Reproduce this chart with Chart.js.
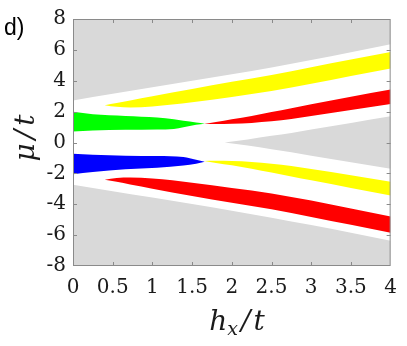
<!DOCTYPE html>
<html>
<head>
<meta charset="utf-8">
<script src="https://cdn.jsdelivr.net/npm/chart.js@4.4.0/dist/chart.umd.min.js"></script>
<style>
  body { margin: 0; background: #fff; }
  #caixa { width: 407px; height: 346px; }
</style>
</head>
<body>
<div id="caixa"><canvas id="grafico" width="407" height="346"></canvas></div>
<script>
// ticks dos eixos
var xTicks = [0, 0.5, 1, 1.5, 2, 2.5, 3, 3.5, 4];
var xTickLabels = ['0', '0.5', '1', '1.5', '2', '2.5', '3', '3.5', '4'];
var yTicks = [-8, -6, -4, -2, 0, 2, 4, 6, 8];
var yTickLabels = ['-8', '-6', '-4', '-2', '0', '2', '4', '6', '8'];

// regiao cinza de fora (cima e baixo)
var grayX = [0, 0.5, 1, 1.5, 2, 2.5, 3, 3.5, 4];
var grayTop = [2.72, 3.15, 3.58, 4.0, 4.42, 4.86, 5.35, 5.85, 6.37];
var grayBottom = [-2.73, -3.15, -3.57, -3.98, -4.42, -4.87, -5.35, -5.85, -6.36];

// cunha cinza do meio
var wedgeX = [1.91, 2.2, 2.5, 2.75, 3, 3.5, 4];
var wedgeUpper = [0, 0.2, 0.43, 0.62, 0.85, 1.27, 1.7];
var wedgeLower = [0, -0.2, -0.44, -0.63, -0.86, -1.28, -1.7];

// verde
var greenX = [0, 0.25, 0.66, 1.06, 1.27, 1.39, 1.55, 1.66];
var greenUpper = [1.99, 1.83, 1.72, 1.62, 1.5, 1.41, 1.3, 1.22];
var greenLower = [0.71, 0.78, 0.82, 0.84, 0.88, 0.99, 1.15, 1.22];

// azul
var blueX = [0, 0.25, 0.66, 1.06, 1.39, 1.55, 1.66];
var blueUpper = [-0.73, -0.8, -0.86, -0.88, -0.94, -1.11, -1.24];
var blueLower = [-2.05, -1.91, -1.74, -1.64, -1.49, -1.37, -1.24];

// amarelo de cima e vermelho de baixo
var bandX = [0.4, 0.55, 0.72, 1, 1.5, 2, 2.5, 3, 3.5, 4];
var yellowTopUpper = [2.42, 2.56, 2.72, 2.99, 3.46, 3.93, 4.38, 4.88, 5.37, 5.87];
var yellowTopLower = [2.42, 2.31, 2.27, 2.33, 2.6, 2.95, 3.33, 3.8, 4.3, 4.8];
var redBottomUpper = [-2.41, -2.3, -2.27, -2.33, -2.6, -2.95, -3.3, -3.76, -4.27, -4.79];
var redBottomLower = [-2.41, -2.55, -2.72, -2.99, -3.46, -3.9, -4.32, -4.82, -5.33, -5.84];

// vermelho de cima e amarelo de baixo
var rightX = [1.65, 1.8, 2, 2.25, 2.5, 2.75, 3, 3.5, 4];
var redTopUpper = [1.2, 1.32, 1.5, 1.72, 1.97, 2.22, 2.48, 2.97, 3.44];
var redTopLower = [1.2, 1.2, 1.21, 1.27, 1.37, 1.52, 1.72, 2.1, 2.5];
var yellowBottomUpper = [-1.2, -1.19, -1.2, -1.26, -1.37, -1.52, -1.72, -2.12, -2.54];
var yellowBottomLower = [-1.2, -1.32, -1.48, -1.7, -1.95, -2.2, -2.45, -2.95, -3.44];

var cinza = '#d9d9d9';

// junta x e y
function pontos(xs, ys) {
  var lista = [];
  for (var i = 0; i < xs.length; i++) {
    lista.push({ x: xs[i], y: ys[i] });
  }
  return lista;
}

function linha(xs, ys, fill, cor) {
  return {
    data: pontos(xs, ys),
    fill: fill,
    backgroundColor: cor || 'rgba(0,0,0,0)',
    borderColor: 'rgba(0,0,0,0)',
    borderWidth: 0,
    pointRadius: 0,
    cubicInterpolationMode: 'monotone'
  };
}

var datasets = [
  linha(grayX, grayTop, 'end', cinza),
  linha(grayX, grayBottom, 'start', cinza),
  linha(wedgeX, wedgeLower, false),
  linha(wedgeX, wedgeUpper, '-1', cinza),
  linha(greenX, greenLower, false),
  linha(greenX, greenUpper, '-1', '#00ff00'),
  linha(blueX, blueLower, false),
  linha(blueX, blueUpper, '-1', '#0000ff'),
  linha(bandX, yellowTopLower, false),
  linha(bandX, yellowTopUpper, '-1', '#ffff00'),
  linha(bandX, redBottomLower, false),
  linha(bandX, redBottomUpper, '-1', '#ff0000'),
  linha(rightX, redTopLower, false),
  linha(rightX, redTopUpper, '-1', '#ff0000'),
  linha(rightX, yellowBottomLower, false),
  linha(rightX, yellowBottomUpper, '-1', '#ffff00')
];

// caixa, ticks pra dentro, titulos dos eixos e o "d)"
var extras = {
  id: 'extras',
  afterDraw: function(chart) {
    var ctx = chart.ctx;
    var a = chart.chartArea;
    var sx = chart.scales.x;
    var sy = chart.scales.y;
    ctx.save();
    ctx.strokeStyle = '#8a8a8a';
    ctx.lineWidth = 1;
    ctx.strokeRect(a.left + 0.5, a.top + 0.5, a.right - a.left - 1, a.bottom - a.top - 1);
    ctx.beginPath();
    for (var i = 1; i < xTicks.length - 1; i++) {
      var px = Math.round(sx.getPixelForValue(xTicks[i])) + 0.5;
      ctx.moveTo(px, a.bottom);
      ctx.lineTo(px, a.bottom - 4);
      ctx.moveTo(px, a.top);
      ctx.lineTo(px, a.top + 4);
    }
    for (var j = 1; j < yTicks.length - 1; j++) {
      var py = Math.round(sy.getPixelForValue(yTicks[j])) + 0.5;
      ctx.moveTo(a.left, py);
      ctx.lineTo(a.left + 4, py);
      ctx.moveTo(a.right, py);
      ctx.lineTo(a.right - 4, py);
    }
    ctx.stroke();

    ctx.fillStyle = '#1a1a1a';
    ctx.textBaseline = 'alphabetic';

    // h_x/t
    var f = 'italic 28px "DejaVu Serif"';
    var fs = 'italic 19px "DejaVu Serif"';
    ctx.font = f;
    var wh = ctx.measureText('h').width;
    var wb = ctx.measureText('/').width;
    var wt = ctx.measureText('t').width;
    ctx.font = fs;
    var wx = ctx.measureText('x').width;
    var total = wh + wx + 3 + wb + 3 + wt;
    var x0 = 237 - total / 2;
    var base = 330;
    ctx.font = f;
    ctx.fillText('h', x0, base);
    ctx.font = fs;
    ctx.fillText('x', x0 + wh, base + 5);
    ctx.font = f;
    ctx.fillText('/', x0 + wh + wx + 3, base);
    ctx.fillText('t', x0 + wh + wx + 3 + wb + 3, base);

    // mu/t girado
    ctx.save();
    ctx.translate(34, 138);
    ctx.rotate(-Math.PI / 2);
    ctx.font = f;
    var wm = ctx.measureText('\u03bc').width;
    var tot2 = wm + 4 + wb + 4 + wt;
    var y0 = -tot2 / 2;
    ctx.fillText('\u03bc', y0, 0);
    ctx.fillText('/', y0 + wm + 4, 0);
    ctx.fillText('t', y0 + wm + 4 + wb + 4, 0);
    ctx.restore();

    // letra do painel
    ctx.fillStyle = '#000';
    ctx.font = '23px "Liberation Sans"';
    ctx.fillText('d)', 4, 35);
    ctx.restore();
  }
};

var fonteTick = { family: 'DejaVu Serif', size: 20 };

new Chart(document.getElementById('grafico'), {
  type: 'line',
  data: { datasets: datasets },
  options: {
    responsive: false,
    animation: false,
    events: [],
    layout: { padding: { left: 0, top: 12, right: 7, bottom: 0 } },
    plugins: {
      legend: { display: false },
      tooltip: { enabled: false }
    },
    scales: {
      x: {
        type: 'linear',
        min: 0,
        max: 4,
        grid: { display: false, drawTicks: false },
        border: { display: false },
        afterBuildTicks: function(scale) {
          scale.ticks = xTicks.map(function(v) { return { value: v }; });
        },
        afterFit: function(scale) { scale.height = 80; },
        ticks: {
          autoSkip: false,
          maxRotation: 0,
          padding: 10,
          color: '#1a1a1a',
          font: fonteTick,
          callback: function(value, index) { return xTickLabels[index]; }
        }
      },
      y: {
        type: 'linear',
        min: -8,
        max: 8,
        grid: { display: false, drawTicks: false },
        border: { display: false },
        afterBuildTicks: function(scale) {
          scale.ticks = yTicks.map(function(v) { return { value: v }; });
        },
        afterFit: function(scale) { scale.width = 73; },
        ticks: {
          autoSkip: false,
          padding: 7,
          color: '#1a1a1a',
          font: fonteTick,
          callback: function(value, index) { return yTickLabels[index]; }
        }
      }
    }
  },
  plugins: [extras]
});
</script>
</body>
</html>
